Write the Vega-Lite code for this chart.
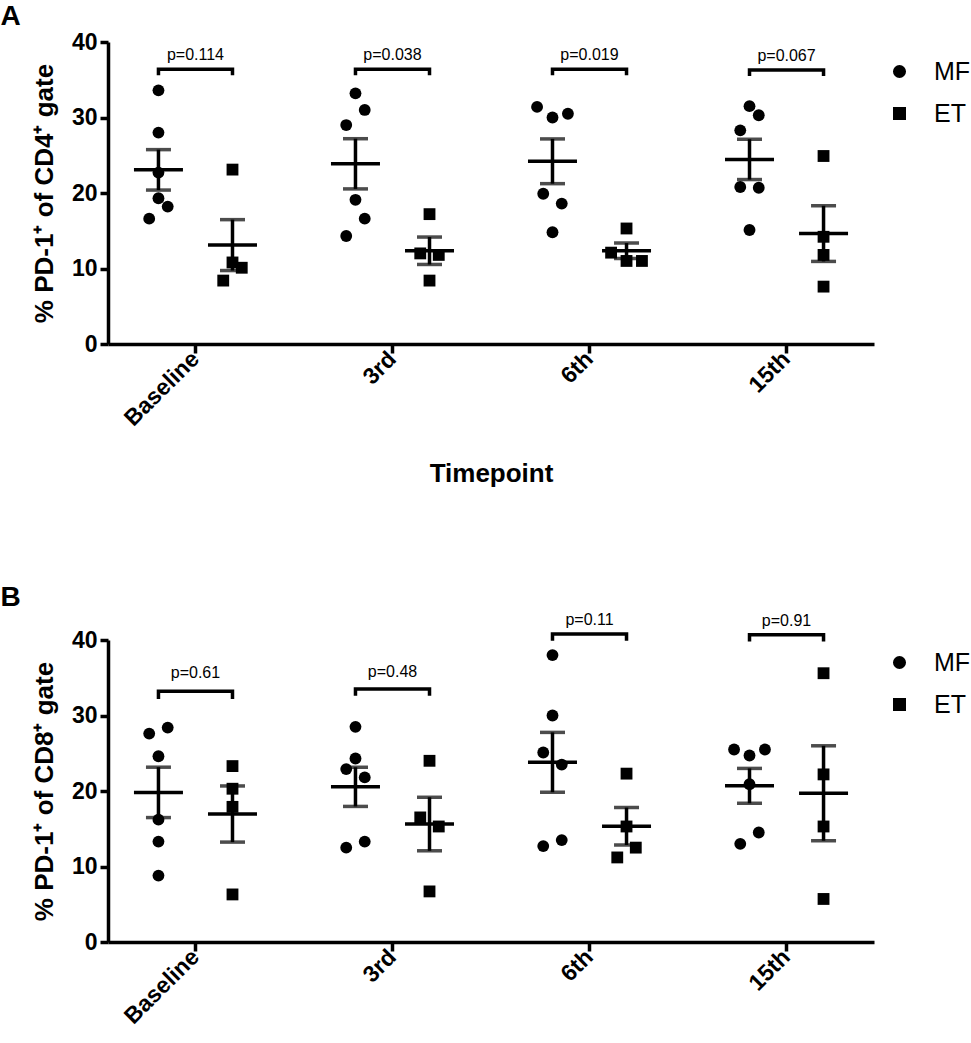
{
  "$schema": "https://vega.github.io/schema/vega-lite/v6.json",
  "background": "white",
  "padding": {"left": 0, "top": 3, "right": 0, "bottom": 0},
  "config": {
    "font": "Liberation Sans",
    "view": {"stroke": null},
    "axis": {
      "grid": false,
      "domainColor": "black",
      "domainWidth": 3.5,
      "tickColor": "black",
      "tickWidth": 3.5,
      "tickSize": 8,
      "labelFont": "Liberation Sans",
      "labelFontWeight": "bold",
      "labelFontSize": 23,
      "labelColor": "black",
      "titleFont": "Liberation Sans",
      "titleFontWeight": "bold",
      "titleFontSize": 26,
      "titleColor": "black"
    },
    "title": {"font": "Liberation Sans", "color": "black"}
  },
  "datasets": {
    "points": [
      {"panel": "A", "time": "Baseline", "group": "MF", "slot": "MF", "value": 33.6},
      {"panel": "A", "time": "Baseline", "group": "MF", "slot": "MF", "value": 28.0},
      {"panel": "A", "time": "Baseline", "group": "MF", "slot": "MF", "value": 22.7},
      {"panel": "A", "time": "Baseline", "group": "MF", "slot": "MF", "value": 19.3},
      {"panel": "A", "time": "Baseline", "group": "MF", "slot": "MF+3", "value": 18.2},
      {"panel": "A", "time": "Baseline", "group": "MF", "slot": "MF-3", "value": 16.6},
      {"panel": "A", "time": "Baseline", "group": "ET", "slot": "ET", "value": 23.1},
      {"panel": "A", "time": "Baseline", "group": "ET", "slot": "ET", "value": 10.8},
      {"panel": "A", "time": "Baseline", "group": "ET", "slot": "ET+3", "value": 10.1},
      {"panel": "A", "time": "Baseline", "group": "ET", "slot": "ET-3", "value": 8.4},
      {"panel": "A", "time": "3rd", "group": "MF", "slot": "MF", "value": 33.2},
      {"panel": "A", "time": "3rd", "group": "MF", "slot": "MF+3", "value": 31.0},
      {"panel": "A", "time": "3rd", "group": "MF", "slot": "MF-3", "value": 29.0},
      {"panel": "A", "time": "3rd", "group": "MF", "slot": "MF", "value": 19.1},
      {"panel": "A", "time": "3rd", "group": "MF", "slot": "MF+3", "value": 16.6},
      {"panel": "A", "time": "3rd", "group": "MF", "slot": "MF-3", "value": 14.3},
      {"panel": "A", "time": "3rd", "group": "ET", "slot": "ET", "value": 17.2},
      {"panel": "A", "time": "3rd", "group": "ET", "slot": "ET-3", "value": 12.0},
      {"panel": "A", "time": "3rd", "group": "ET", "slot": "ET+3", "value": 11.8},
      {"panel": "A", "time": "3rd", "group": "ET", "slot": "ET", "value": 8.4},
      {"panel": "A", "time": "6th", "group": "MF", "slot": "MF-5", "value": 31.4},
      {"panel": "A", "time": "6th", "group": "MF", "slot": "MF+5", "value": 30.5},
      {"panel": "A", "time": "6th", "group": "MF", "slot": "MF", "value": 30.0},
      {"panel": "A", "time": "6th", "group": "MF", "slot": "MF-3", "value": 19.9},
      {"panel": "A", "time": "6th", "group": "MF", "slot": "MF+3", "value": 18.6},
      {"panel": "A", "time": "6th", "group": "MF", "slot": "MF", "value": 14.8},
      {"panel": "A", "time": "6th", "group": "ET", "slot": "ET", "value": 15.3},
      {"panel": "A", "time": "6th", "group": "ET", "slot": "ET-5", "value": 12.1},
      {"panel": "A", "time": "6th", "group": "ET", "slot": "ET", "value": 11.0},
      {"panel": "A", "time": "6th", "group": "ET", "slot": "ET+5", "value": 11.0},
      {"panel": "A", "time": "15th", "group": "MF", "slot": "MF", "value": 31.5},
      {"panel": "A", "time": "15th", "group": "MF", "slot": "MF+3", "value": 30.3},
      {"panel": "A", "time": "15th", "group": "MF", "slot": "MF-3", "value": 28.3},
      {"panel": "A", "time": "15th", "group": "MF", "slot": "MF-3", "value": 20.8},
      {"panel": "A", "time": "15th", "group": "MF", "slot": "MF+3", "value": 20.7},
      {"panel": "A", "time": "15th", "group": "MF", "slot": "MF", "value": 15.1},
      {"panel": "A", "time": "15th", "group": "ET", "slot": "ET", "value": 24.9},
      {"panel": "A", "time": "15th", "group": "ET", "slot": "ET", "value": 14.2},
      {"panel": "A", "time": "15th", "group": "ET", "slot": "ET", "value": 11.8},
      {"panel": "A", "time": "15th", "group": "ET", "slot": "ET", "value": 7.6},
      {"panel": "B", "time": "Baseline", "group": "MF", "slot": "MF+3", "value": 28.4},
      {"panel": "B", "time": "Baseline", "group": "MF", "slot": "MF-3", "value": 27.6},
      {"panel": "B", "time": "Baseline", "group": "MF", "slot": "MF", "value": 24.6},
      {"panel": "B", "time": "Baseline", "group": "MF", "slot": "MF", "value": 16.2},
      {"panel": "B", "time": "Baseline", "group": "MF", "slot": "MF", "value": 13.3},
      {"panel": "B", "time": "Baseline", "group": "MF", "slot": "MF", "value": 8.8},
      {"panel": "B", "time": "Baseline", "group": "ET", "slot": "ET", "value": 23.3},
      {"panel": "B", "time": "Baseline", "group": "ET", "slot": "ET", "value": 20.3},
      {"panel": "B", "time": "Baseline", "group": "ET", "slot": "ET", "value": 17.9},
      {"panel": "B", "time": "Baseline", "group": "ET", "slot": "ET", "value": 6.3},
      {"panel": "B", "time": "3rd", "group": "MF", "slot": "MF", "value": 28.5},
      {"panel": "B", "time": "3rd", "group": "MF", "slot": "MF", "value": 24.3},
      {"panel": "B", "time": "3rd", "group": "MF", "slot": "MF-3", "value": 22.9},
      {"panel": "B", "time": "3rd", "group": "MF", "slot": "MF+3", "value": 21.8},
      {"panel": "B", "time": "3rd", "group": "MF", "slot": "MF+3", "value": 13.3},
      {"panel": "B", "time": "3rd", "group": "MF", "slot": "MF-3", "value": 12.5},
      {"panel": "B", "time": "3rd", "group": "ET", "slot": "ET", "value": 24.0},
      {"panel": "B", "time": "3rd", "group": "ET", "slot": "ET-3", "value": 16.5},
      {"panel": "B", "time": "3rd", "group": "ET", "slot": "ET+3", "value": 15.3},
      {"panel": "B", "time": "3rd", "group": "ET", "slot": "ET", "value": 6.7},
      {"panel": "B", "time": "6th", "group": "MF", "slot": "MF", "value": 38.0},
      {"panel": "B", "time": "6th", "group": "MF", "slot": "MF", "value": 30.0},
      {"panel": "B", "time": "6th", "group": "MF", "slot": "MF-3", "value": 25.1},
      {"panel": "B", "time": "6th", "group": "MF", "slot": "MF+3", "value": 23.5},
      {"panel": "B", "time": "6th", "group": "MF", "slot": "MF+3", "value": 13.5},
      {"panel": "B", "time": "6th", "group": "MF", "slot": "MF-3", "value": 12.7},
      {"panel": "B", "time": "6th", "group": "ET", "slot": "ET", "value": 22.3},
      {"panel": "B", "time": "6th", "group": "ET", "slot": "ET", "value": 15.3},
      {"panel": "B", "time": "6th", "group": "ET", "slot": "ET+3", "value": 12.5},
      {"panel": "B", "time": "6th", "group": "ET", "slot": "ET-3", "value": 11.2},
      {"panel": "B", "time": "15th", "group": "MF", "slot": "MF-5", "value": 25.5},
      {"panel": "B", "time": "15th", "group": "MF", "slot": "MF+5", "value": 25.5},
      {"panel": "B", "time": "15th", "group": "MF", "slot": "MF", "value": 24.7},
      {"panel": "B", "time": "15th", "group": "MF", "slot": "MF", "value": 20.9},
      {"panel": "B", "time": "15th", "group": "MF", "slot": "MF+3", "value": 14.5},
      {"panel": "B", "time": "15th", "group": "MF", "slot": "MF-3", "value": 13.0},
      {"panel": "B", "time": "15th", "group": "ET", "slot": "ET", "value": 35.6},
      {"panel": "B", "time": "15th", "group": "ET", "slot": "ET", "value": 22.2},
      {"panel": "B", "time": "15th", "group": "ET", "slot": "ET", "value": 15.3},
      {"panel": "B", "time": "15th", "group": "ET", "slot": "ET", "value": 5.7}
    ],
    "brackets": [
      {"panel": "A", "time": "Baseline", "group": "MF", "ord": 1, "value": 35.6},
      {"panel": "A", "time": "Baseline", "group": "MF", "ord": 2, "value": 36.4},
      {"panel": "A", "time": "Baseline", "group": "ET", "ord": 3, "value": 36.4},
      {"panel": "A", "time": "Baseline", "group": "ET", "ord": 4, "value": 35.6},
      {"panel": "A", "time": "3rd", "group": "MF", "ord": 1, "value": 35.6},
      {"panel": "A", "time": "3rd", "group": "MF", "ord": 2, "value": 36.4},
      {"panel": "A", "time": "3rd", "group": "ET", "ord": 3, "value": 36.4},
      {"panel": "A", "time": "3rd", "group": "ET", "ord": 4, "value": 35.6},
      {"panel": "A", "time": "6th", "group": "MF", "ord": 1, "value": 35.6},
      {"panel": "A", "time": "6th", "group": "MF", "ord": 2, "value": 36.4},
      {"panel": "A", "time": "6th", "group": "ET", "ord": 3, "value": 36.4},
      {"panel": "A", "time": "6th", "group": "ET", "ord": 4, "value": 35.6},
      {"panel": "A", "time": "15th", "group": "MF", "ord": 1, "value": 35.5},
      {"panel": "A", "time": "15th", "group": "MF", "ord": 2, "value": 36.3},
      {"panel": "A", "time": "15th", "group": "ET", "ord": 3, "value": 36.3},
      {"panel": "A", "time": "15th", "group": "ET", "ord": 4, "value": 35.5},
      {"panel": "B", "time": "Baseline", "group": "MF", "ord": 1, "value": 32.2},
      {"panel": "B", "time": "Baseline", "group": "MF", "ord": 2, "value": 33.2},
      {"panel": "B", "time": "Baseline", "group": "ET", "ord": 3, "value": 33.2},
      {"panel": "B", "time": "Baseline", "group": "ET", "ord": 4, "value": 32.2},
      {"panel": "B", "time": "3rd", "group": "MF", "ord": 1, "value": 32.6},
      {"panel": "B", "time": "3rd", "group": "MF", "ord": 2, "value": 33.5},
      {"panel": "B", "time": "3rd", "group": "ET", "ord": 3, "value": 33.5},
      {"panel": "B", "time": "3rd", "group": "ET", "ord": 4, "value": 32.6},
      {"panel": "B", "time": "6th", "group": "MF", "ord": 1, "value": 39.9},
      {"panel": "B", "time": "6th", "group": "MF", "ord": 2, "value": 40.8},
      {"panel": "B", "time": "6th", "group": "ET", "ord": 3, "value": 40.8},
      {"panel": "B", "time": "6th", "group": "ET", "ord": 4, "value": 39.9},
      {"panel": "B", "time": "15th", "group": "MF", "ord": 1, "value": 39.8},
      {"panel": "B", "time": "15th", "group": "MF", "ord": 2, "value": 40.7},
      {"panel": "B", "time": "15th", "group": "ET", "ord": 3, "value": 40.7},
      {"panel": "B", "time": "15th", "group": "ET", "ord": 4, "value": 39.8}
    ],
    "labels": [
      {"panel": "A", "time": "Baseline", "label": "p=0.114", "value": 38.3},
      {"panel": "A", "time": "3rd", "label": "p=0.038", "value": 38.3},
      {"panel": "A", "time": "6th", "label": "p=0.019", "value": 38.3},
      {"panel": "A", "time": "15th", "label": "p=0.067", "value": 38.2},
      {"panel": "B", "time": "Baseline", "label": "p=0.61", "value": 35.6},
      {"panel": "B", "time": "3rd", "label": "p=0.48", "value": 35.7},
      {"panel": "B", "time": "6th", "label": "p=0.11", "value": 42.6},
      {"panel": "B", "time": "15th", "label": "p=0.91", "value": 42.5}
    ]
  },
  "resolve": {"legend": {"shape": "independent"}},
  "spacing": 97,
  "vconcat": [
    {
      "title": {"text": "A", "anchor": "start", "frame": "bounds", "fontSize": 28, "fontWeight": "bold", "dx": -31, "offset": 0},
      "width": 766,
      "height": 302,
      "encoding": {
        "x": {
          "field": "time", "type": "nominal", "sort": ["Baseline", "3rd", "6th", "15th"],
          "scale": {"type": "band", "paddingInner": 0.452, "paddingOuter": 0.17},
          "axis": {"title": "Timepoint", "labelAngle": -45, "labelAlign": "right", "labelBaseline": "middle", "labelPadding": 2, "tickSize": 9, "titlePadding": 30}
        },
        "y": {
          "field": "value", "type": "quantitative", "title": "% PD-1⁺ of CD4⁺ gate",
          "scale": {"domain": [0, 40], "nice": false},
          "axis": {"values": [0, 10, 20, 30, 40], "labelPadding": 3, "titlePadding": 14}
        }
      },
      "layer": [
        {
          "data": {"name": "points"},
          "transform": [{"filter": "datum.panel === 'A'"}],
          "mark": {"type": "point", "filled": true, "size": 140, "opacity": 1, "color": "black"},
          "encoding": {
            "xOffset": {"field": "slot", "type": "nominal", "scale": {"type": "band", "paddingInner": 0, "paddingOuter": 0, "domain": ["MF-5","MF-4","MF-3","MF-2","MF-1","MF","MF+1","MF+2","MF+3","MF+4","MF+5","g-6","g-5","g-4","g-3","g-2","g-1","g0","g1","g2","g3","g4","g5","g6","ET-5","ET-4","ET-3","ET-2","ET-1","ET","ET+1","ET+2","ET+3","ET+4","ET+5"]}},
            "shape": {
              "field": "group", "type": "nominal",
              "scale": {"domain": ["MF", "ET"], "range": ["circle", "square"]},
              "legend": {"title": null, "orient": "none", "legendX": 779, "legendY": 17, "labelFontSize": 25, "labelFont": "Liberation Sans", "labelColor": "black", "symbolSize": 170, "rowPadding": 16, "labelOffset": 22, "padding": 0, "symbolStrokeWidth": 0, "symbolFillColor": "black"}
            }
          }
        },
        {
          "data": {"name": "points"},
          "transform": [{"filter": "datum.panel === 'A'"}],
          "mark": {"type": "errorbar", "extent": "stderr", "thickness": 3.5, "color": "black", "ticks": {"size": 25, "thickness": 3.5, "color": "black"}},
          "encoding": {
            "xOffset": {"field": "group", "type": "nominal", "scale": {"type": "band", "paddingInner": 0, "paddingOuter": 0, "domain": ["MF-5","MF-4","MF-3","MF-2","MF-1","MF","MF+1","MF+2","MF+3","MF+4","MF+5","g-6","g-5","g-4","g-3","g-2","g-1","g0","g1","g2","g3","g4","g5","g6","ET-5","ET-4","ET-3","ET-2","ET-1","ET","ET+1","ET+2","ET+3","ET+4","ET+5"]}}
          }
        },
        {
          "data": {"name": "points"},
          "transform": [{"filter": "datum.panel === 'A'"}],
          "mark": {"type": "tick", "size": 49, "thickness": 3.5, "color": "black", "opacity": 1},
          "encoding": {
            "y": {"aggregate": "mean", "field": "value", "type": "quantitative", "title": "% PD-1⁺ of CD4⁺ gate"},
            "xOffset": {"field": "group", "type": "nominal", "scale": {"type": "band", "paddingInner": 0, "paddingOuter": 0, "domain": ["MF-5","MF-4","MF-3","MF-2","MF-1","MF","MF+1","MF+2","MF+3","MF+4","MF+5","g-6","g-5","g-4","g-3","g-2","g-1","g0","g1","g2","g3","g4","g5","g6","ET-5","ET-4","ET-3","ET-2","ET-1","ET","ET+1","ET+2","ET+3","ET+4","ET+5"]}}
          }
        },
        {
          "data": {"name": "brackets"},
          "transform": [{"filter": "datum.panel === 'A'"}],
          "mark": {"type": "line", "color": "black", "strokeWidth": 3.5, "strokeJoin": "miter", "strokeCap": "butt"},
          "encoding": {
            "xOffset": {"field": "group", "type": "nominal", "scale": {"type": "band", "paddingInner": 0, "paddingOuter": 0, "domain": ["MF-5","MF-4","MF-3","MF-2","MF-1","MF","MF+1","MF+2","MF+3","MF+4","MF+5","g-6","g-5","g-4","g-3","g-2","g-1","g0","g1","g2","g3","g4","g5","g6","ET-5","ET-4","ET-3","ET-2","ET-1","ET","ET+1","ET+2","ET+3","ET+4","ET+5"]}},
            "detail": {"field": "time", "type": "nominal"},
            "order": {"field": "ord", "type": "quantitative"}
          }
        },
        {
          "data": {"name": "labels"},
          "transform": [{"filter": "datum.panel === 'A'"}],
          "mark": {"type": "text", "fontSize": 16, "color": "black", "baseline": "middle", "align": "center"},
          "encoding": {"text": {"field": "label", "type": "nominal"}}
        }
      ]
    },
    {
      "title": {"text": "B", "anchor": "start", "frame": "bounds", "fontSize": 28, "fontWeight": "bold", "dx": -31, "offset": 0},
      "width": 766,
      "height": 302,
      "encoding": {
        "x": {
          "field": "time", "type": "nominal", "sort": ["Baseline", "3rd", "6th", "15th"],
          "scale": {"type": "band", "paddingInner": 0.452, "paddingOuter": 0.17},
          "axis": {"title": null, "labelAngle": -45, "labelAlign": "right", "labelBaseline": "middle", "labelPadding": 2, "tickSize": 9}
        },
        "y": {
          "field": "value", "type": "quantitative", "title": "% PD-1⁺ of CD8⁺ gate",
          "scale": {"domain": [0, 40], "nice": false},
          "axis": {"values": [0, 10, 20, 30, 40], "labelPadding": 3, "titlePadding": 14}
        }
      },
      "layer": [
        {
          "data": {"name": "points"},
          "transform": [{"filter": "datum.panel === 'B'"}],
          "mark": {"type": "point", "filled": true, "size": 140, "opacity": 1, "color": "black"},
          "encoding": {
            "xOffset": {"field": "slot", "type": "nominal", "scale": {"type": "band", "paddingInner": 0, "paddingOuter": 0, "domain": ["MF-5","MF-4","MF-3","MF-2","MF-1","MF","MF+1","MF+2","MF+3","MF+4","MF+5","g-6","g-5","g-4","g-3","g-2","g-1","g0","g1","g2","g3","g4","g5","g6","ET-5","ET-4","ET-3","ET-2","ET-1","ET","ET+1","ET+2","ET+3","ET+4","ET+5"]}},
            "shape": {
              "field": "group", "type": "nominal",
              "scale": {"domain": ["MF", "ET"], "range": ["circle", "square"]},
              "legend": {"title": null, "orient": "none", "legendX": 779, "legendY": 10, "labelFontSize": 25, "labelFont": "Liberation Sans", "labelColor": "black", "symbolSize": 170, "rowPadding": 16, "labelOffset": 22, "padding": 0, "symbolStrokeWidth": 0, "symbolFillColor": "black"}
            }
          }
        },
        {
          "data": {"name": "points"},
          "transform": [{"filter": "datum.panel === 'B'"}],
          "mark": {"type": "errorbar", "extent": "stderr", "thickness": 3.5, "color": "black", "ticks": {"size": 25, "thickness": 3.5, "color": "black"}},
          "encoding": {
            "xOffset": {"field": "group", "type": "nominal", "scale": {"type": "band", "paddingInner": 0, "paddingOuter": 0, "domain": ["MF-5","MF-4","MF-3","MF-2","MF-1","MF","MF+1","MF+2","MF+3","MF+4","MF+5","g-6","g-5","g-4","g-3","g-2","g-1","g0","g1","g2","g3","g4","g5","g6","ET-5","ET-4","ET-3","ET-2","ET-1","ET","ET+1","ET+2","ET+3","ET+4","ET+5"]}}
          }
        },
        {
          "data": {"name": "points"},
          "transform": [{"filter": "datum.panel === 'B'"}],
          "mark": {"type": "tick", "size": 49, "thickness": 3.5, "color": "black", "opacity": 1},
          "encoding": {
            "y": {"aggregate": "mean", "field": "value", "type": "quantitative", "title": "% PD-1⁺ of CD8⁺ gate"},
            "xOffset": {"field": "group", "type": "nominal", "scale": {"type": "band", "paddingInner": 0, "paddingOuter": 0, "domain": ["MF-5","MF-4","MF-3","MF-2","MF-1","MF","MF+1","MF+2","MF+3","MF+4","MF+5","g-6","g-5","g-4","g-3","g-2","g-1","g0","g1","g2","g3","g4","g5","g6","ET-5","ET-4","ET-3","ET-2","ET-1","ET","ET+1","ET+2","ET+3","ET+4","ET+5"]}}
          }
        },
        {
          "data": {"name": "brackets"},
          "transform": [{"filter": "datum.panel === 'B'"}],
          "mark": {"type": "line", "color": "black", "strokeWidth": 3.5, "strokeJoin": "miter", "strokeCap": "butt"},
          "encoding": {
            "xOffset": {"field": "group", "type": "nominal", "scale": {"type": "band", "paddingInner": 0, "paddingOuter": 0, "domain": ["MF-5","MF-4","MF-3","MF-2","MF-1","MF","MF+1","MF+2","MF+3","MF+4","MF+5","g-6","g-5","g-4","g-3","g-2","g-1","g0","g1","g2","g3","g4","g5","g6","ET-5","ET-4","ET-3","ET-2","ET-1","ET","ET+1","ET+2","ET+3","ET+4","ET+5"]}},
            "detail": {"field": "time", "type": "nominal"},
            "order": {"field": "ord", "type": "quantitative"}
          }
        },
        {
          "data": {"name": "labels"},
          "transform": [{"filter": "datum.panel === 'B'"}],
          "mark": {"type": "text", "fontSize": 16, "color": "black", "baseline": "middle", "align": "center"},
          "encoding": {"text": {"field": "label", "type": "nominal"}}
        }
      ]
    }
  ]
}
